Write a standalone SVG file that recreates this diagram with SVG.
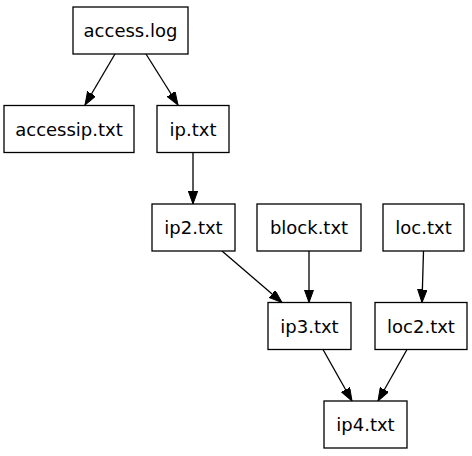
<svg xmlns="http://www.w3.org/2000/svg" width="472" height="456" viewBox="0 0 472 456">
<defs>
<style>
.n rect{fill:#fff;stroke:#000;stroke-width:1.3}
.n text{font-family:"DejaVu Sans",sans-serif;font-size:18px;fill:#000;text-anchor:middle}
.e line{stroke:#000;stroke-width:1.3;marker-end:url(#ah)}
</style>
<marker id="ah" markerUnits="userSpaceOnUse" markerWidth="14" markerHeight="10" refX="13" refY="4.7" orient="auto">
<path d="M0,0 L13,4.7 L0,9.4 z" fill="#000" stroke="#000" stroke-width="1"/>
</marker>
</defs>
<rect width="472" height="456" fill="#fff"/>
<g id="edges" class="e">
<line x1="115" y1="54" x2="85" y2="105"/>
<line x1="146" y1="54" x2="178" y2="105"/>
<line x1="193" y1="152.5" x2="193" y2="204"/>
<line x1="222" y1="251" x2="282" y2="302.5"/>
<line x1="309" y1="251" x2="309" y2="302.5"/>
<line x1="423.5" y1="251" x2="422" y2="302.5"/>
<line x1="323" y1="349.5" x2="352" y2="401"/>
<line x1="407" y1="349.5" x2="378" y2="401"/>
</g>
<g id="access_log" class="n"><rect x="73" y="7" width="115" height="47"/><text x="130.5" y="37">access.log</text></g>
<g id="accessip_txt" class="n"><rect x="4" y="105.5" width="130" height="47"/><text x="69" y="135.5">accessip.txt</text></g>
<g id="ip_txt" class="n"><rect x="157" y="105.5" width="72" height="47"/><text x="193" y="135.5">ip.txt</text></g>
<g id="ip2_txt" class="n"><rect x="152" y="204" width="83" height="47"/><text x="193.5" y="234">ip2.txt</text></g>
<g id="block_txt" class="n"><rect x="257" y="204" width="104" height="47"/><text x="309" y="234">block.txt</text></g>
<g id="loc_txt" class="n"><rect x="383" y="204" width="81" height="47"/><text x="423.5" y="234">loc.txt</text></g>
<g id="ip3_txt" class="n"><rect x="268" y="302.5" width="83" height="47"/><text x="309.5" y="332.5">ip3.txt</text></g>
<g id="loc2_txt" class="n"><rect x="375" y="302.5" width="92" height="47"/><text x="421" y="332.5">loc2.txt</text></g>
<g id="ip4_txt" class="n"><rect x="324" y="401" width="83" height="47"/><text x="365.5" y="431">ip4.txt</text></g>
</svg>
